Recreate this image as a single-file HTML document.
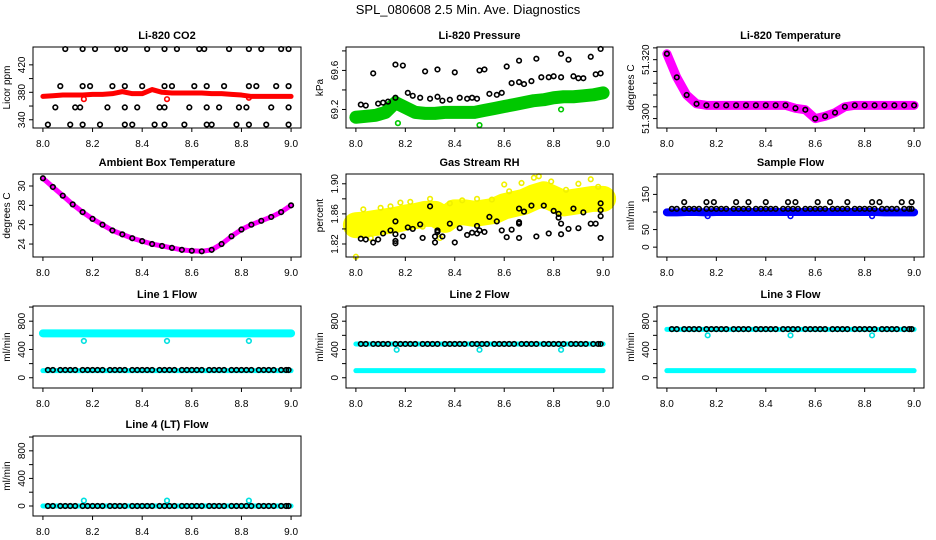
<!DOCTYPE html>
<html><head><meta charset="utf-8"><style>
html,body{margin:0;padding:0;background:#fff;width:936px;height:540px;overflow:hidden}
svg text{font-family:"Liberation Sans",Arial,sans-serif}
</style></head><body>
<svg id="chart" width="936" height="540" viewBox="0 0 936 540" xmlns="http://www.w3.org/2000/svg">
<text x="468" y="14" text-anchor="middle" font-size="13">SPL_080608  2.5 Min. Ave. Diagnostics</text>
</svg>
<script>
// shared x grid (hours)
const T = [8.00,8.04,8.08,8.12,8.16,8.20,8.24,8.28,8.32,8.36,8.40,8.44,8.48,8.52,8.56,8.60,8.64,8.68,8.72,8.76,8.80,8.84,8.88,8.92,8.96,9.00];
const D = [8.02,8.04,8.07,8.09,8.11,8.13,8.16,8.18,8.20,8.22,8.24,8.27,8.29,8.31,8.33,8.36,8.38,8.40,8.42,8.44,8.47,8.49,8.51,8.53,8.56,8.58,8.60,8.62,8.64,8.67,8.69,8.71,8.73,8.76,8.78,8.80,8.82,8.84,8.87,8.89,8.91,8.93,8.96,8.98,8.99];
const xTicks = [8.0,8.2,8.4,8.6,8.8,9.0];
const xTickLabels = ["8.0","8.2","8.4","8.6","8.8","9.0"];

// CO2
const co2Red = [374,375,376,376,376,377,377,378,381,378,378,384,380,379,379,379,379,378,378,377,376,374,374,374,374,374];
const co2TopX = [8.09,8.16,8.21,8.30,8.33,8.42,8.49,8.54,8.63,8.65,8.75,8.83,8.88,8.96,8.99];
const co2MidX = [8.07,8.16,8.19,8.28,8.33,8.40,8.49,8.52,8.61,8.66,8.73,8.83,8.86,8.94,8.99];
const co2LowX = [8.05,8.13,8.15,8.26,8.33,8.38,8.47,8.49,8.59,8.66,8.71,8.79,8.82,8.92,8.99];
const co2BotX = [8.02,8.11,8.16,8.23,8.33,8.36,8.45,8.49,8.57,8.66,8.68,8.78,8.83,8.90,8.99];
const co2Levels = [443,389,358,333];

// Pressure
const presGreen = [69.12,69.13,69.14,69.17,69.27,69.22,69.17,69.16,69.16,69.17,69.17,69.17,69.17,69.19,69.21,69.23,69.25,69.27,69.29,69.30,69.32,69.33,69.33,69.34,69.35,69.37];
const presBlackX = [8.02,8.04,8.07,8.09,8.11,8.13,8.16,8.16,8.19,8.21,8.23,8.26,8.28,8.30,8.33,8.33,8.35,8.38,8.40,8.42,8.45,8.47,8.49,8.50,8.52,8.54,8.57,8.59,8.61,8.63,8.66,8.66,8.68,8.71,8.73,8.75,8.78,8.80,8.83,8.83,8.86,8.88,8.90,8.92,8.95,8.97,8.99,8.99];
const presBlackY = [69.25,69.24,69.57,69.26,69.27,69.28,69.32,69.66,69.65,69.37,69.34,69.32,69.59,69.31,69.33,69.61,69.29,69.30,69.58,69.32,69.31,69.32,69.31,69.60,69.61,69.36,69.35,69.37,69.64,69.47,69.48,69.70,69.46,69.49,69.72,69.53,69.53,69.54,69.53,69.77,69.71,69.54,69.52,69.52,69.74,69.56,69.57,69.82];
const presOutX = [8.17,8.50,8.83];
const presOutY = [69.06,69.04,69.20];

// Li-820 temperature
const ltemp = [51.322,51.314,51.308,51.305,51.3045,51.3045,51.3045,51.3045,51.3045,51.3045,51.3045,51.3045,51.3045,51.3035,51.303,51.300,51.3008,51.302,51.304,51.3045,51.3045,51.3045,51.3045,51.3045,51.3045,51.3045];

// Ambient box temperature
const amb = [30.8,29.9,29.0,28.1,27.3,26.6,26.0,25.4,25.0,24.6,24.3,24.0,23.8,23.6,23.4,23.3,23.25,23.4,24.0,24.8,25.5,26.0,26.4,26.8,27.3,28.0];

// Gas stream RH
const rhYellow = [1.845,1.846,1.848,1.850,1.852,1.855,1.857,1.860,1.860,1.852,1.862,1.862,1.860,1.862,1.864,1.870,1.873,1.876,1.882,1.886,1.880,1.874,1.876,1.878,1.880,1.880];
const rhYelX = [8.00,8.03,8.06,8.10,8.14,8.18,8.22,8.27,8.30,8.34,8.38,8.43,8.49,8.55,8.60,8.62,8.67,8.72,8.74,8.79,8.85,8.90,8.95,8.98];
const rhYelY = [1.803,1.866,1.828,1.868,1.870,1.875,1.876,1.843,1.880,1.828,1.874,1.878,1.880,1.879,1.899,1.890,1.901,1.908,1.910,1.903,1.892,1.900,1.906,1.896];
const rhBlackX = [8.02,8.04,8.07,8.09,8.11,8.14,8.16,8.16,8.16,8.16,8.19,8.21,8.23,8.26,8.27,8.30,8.32,8.33,8.33,8.32,8.35,8.38,8.40,8.42,8.45,8.47,8.49,8.49,8.50,8.52,8.54,8.57,8.59,8.61,8.63,8.66,8.66,8.66,8.66,8.68,8.71,8.73,8.76,8.78,8.80,8.82,8.82,8.83,8.83,8.86,8.88,8.90,8.92,8.95,8.97,8.99,8.99,8.99,8.99];
const rhBlackY = [1.827,1.826,1.822,1.826,1.834,1.838,1.850,1.833,1.824,1.821,1.830,1.842,1.840,1.846,1.828,1.870,1.830,1.838,1.836,1.822,1.830,1.847,1.822,1.841,1.832,1.835,1.844,1.834,1.838,1.836,1.856,1.850,1.838,1.829,1.839,1.849,1.847,1.828,1.867,1.863,1.871,1.830,1.871,1.834,1.864,1.860,1.855,1.847,1.833,1.840,1.867,1.841,1.862,1.847,1.847,1.857,1.874,1.865,1.828];

// Sample flow
const sampBlue = [99,99,100,100,99,100,100,100,100,100,100,100,100,100,100,100,100,100,100,100,100,100,99,99,99,99];
const sampHiX = [8.07,8.16,8.19,8.28,8.33,8.40,8.49,8.52,8.61,8.66,8.73,8.83,8.86,8.95,8.99];
const sampHiLevel = 128;
const sampLoLevel = 109;

// Line flows
const l1CyanHi = 628, l1CyanLo = 100, l1Black = 110, l1Out = 520;
const l2CyanHi = 478, l2CyanLo = 100, l2Black = 478, l2Out = 395;
const l3CyanHi = 685, l3CyanLo = 100, l3Black = 688, l3Out = 600;
const l4CyanHi = 0, l4Black = 0, l4Out = 78;
const outX = [8.165,8.50,8.83];

const svg = document.getElementById('chart');
const NS = 'http://www.w3.org/2000/svg';
function mk(tag, attrs, parent){const e=document.createElementNS(NS,tag);for(const k in attrs)e.setAttribute(k,attrs[k]);(parent||svg).appendChild(e);return e;}

const cols = [[33,301],[346,613],[657,924]];
const rows = [[47,128],[174,257],[306,388],[436,516]];

function panel(o){
  const [bx0,bx1]=cols[o.c], [by0,by1]=rows[o.r];
  const g = mk('g',{});
  
  
  const pad=(bx1-bx0)*0.04/1.08;
  const xs=v=>bx0+pad+(v-8)*(bx1-bx0-2*pad);
  const ys=v=>by1-(v-o.y0)/(o.y1-o.y0)*(by1-by0);
  const t=mk('text',{x:(bx0+bx1)/2,y:by0-8,'text-anchor':'middle','font-size':'11','font-weight':'bold'},g);
  t.textContent=o.title;
  
  
  const plot = mk('g',{},g);
  
  
  o.draw(plot,xs,ys);
  const b=mk('rect',{x:bx0,y:by0,width:bx1-bx0,height:by1-by0,fill:'none',stroke:'#000','stroke-width':1},g);
  
  
  const xa=mk('g',{},g);
  
  
  mk('line',{x1:xs(8),x2:xs(9),y1:by1,y2:by1,stroke:'#000'},xa);
  xTicks.forEach((v,i)=>{
    mk('line',{x1:xs(v),x2:xs(v),y1:by1,y2:by1+4,stroke:'#000'},xa);
    const l=mk('text',{x:xs(v),y:by1+19,'text-anchor':'middle','font-size':'10'},xa);
    l.textContent=xTickLabels[i];
    
    
  });
  const ya=mk('g',{},g);
  
  
  mk('line',{x1:bx0,x2:bx0,y1:ys(o.yt[0]),y2:ys(o.yt[o.yt.length-1]),stroke:'#000'},ya);
  o.yt.forEach(v=>mk('line',{x1:bx0-4,x2:bx0,y1:ys(v),y2:ys(v),stroke:'#000'},ya));
  o.yl.forEach((v,i)=>{
    const yy=ys(v), xx=bx0-8;
    const l=mk('text',{x:xx,y:yy,'text-anchor':'middle','font-size':'10',transform:`rotate(-90 ${xx} ${yy})`},ya);
    l.textContent=o.ylt[i];
    
    
  });
  const yt=mk('text',{x:bx0-23,y:(by0+by1)/2,'text-anchor':'middle','font-size':'10',transform:`rotate(-90 ${bx0-23} ${(by0+by1)/2})`},ya);
  yt.textContent=o.ytitle;
  
  
}
function band(p,xs,ys,xa,ya,color,w,name){
  const pl=mk('polyline',{points:xa.map((x,i)=>xs(x)+','+ys(ya[i])).join(' '),fill:'none',stroke:color,'stroke-width':w,'stroke-linejoin':'round','stroke-linecap':'round'},p);
  
  
}
function dots(p,xs,ys,xa,ya,color,name){
  xa.forEach((x,i)=>{
    const c=mk('circle',{cx:xs(x),cy:ys(ya[i]),r:2.3,fill:'none',stroke:color,'stroke-width':1.6},p);
    
    
  });
}
const fill=(arr,v)=>arr.map(()=>v);

panel({name:'co2',c:0,r:0,title:'Li-820 CO2',ytitle:'Licor ppm',y0:328,y1:446,yt:[340,360,380,400,420],yl:[340,380,420],ylt:['340','380','420'],
 draw:(p,xs,ys)=>{band(p,xs,ys,T,co2Red,'#f00',5,'co2-series');
  dots(p,xs,ys,[8.165,8.50,8.83],[370,370,372],'#f00','co2-outlier');
  [co2TopX,co2MidX,co2LowX,co2BotX].forEach((a,i)=>dots(p,xs,ys,a,fill(a,co2Levels[i]),'#000','co2-point'));}});

panel({name:'pressure',c:1,r:0,title:'Li-820 Pressure',ytitle:'kPa',y0:69.01,y1:69.84,yt:[69.2,69.4,69.6,69.8],yl:[69.2,69.6],ylt:['69.2','69.6'],
 draw:(p,xs,ys)=>{band(p,xs,ys,T,presGreen,'#00c800',13,'pressure-series');
  dots(p,xs,ys,presOutX,presOutY,'#00c800','pressure-outlier');
  dots(p,xs,ys,presBlackX,presBlackY,'#000','pressure-point');}});

panel({name:'li-temp',c:2,r:0,title:'Li-820 Temperature',ytitle:'degrees C',y0:51.2968,y1:51.3243,yt:[51.300,51.304,51.308,51.312,51.316,51.320,51.324],yl:[51.300,51.320],ylt:['51.300','51.320'],
 draw:(p,xs,ys)=>{band(p,xs,ys,T,ltemp,'#f0f',9,'li-temp-series');
  dots(p,xs,ys,T,ltemp,'#000','li-temp-point');}});

panel({name:'ambient-temp',c:0,r:1,title:'Ambient Box Temperature',ytitle:'degrees C',y0:22.66,y1:31.24,yt:[24,26,28,30],yl:[24,26,28,30],ylt:['24','26','28','30'],
 draw:(p,xs,ys)=>{band(p,xs,ys,T,amb,'#f0f',5,'ambient-temp-series');
  dots(p,xs,ys,T,amb,'#000','ambient-temp-point');}});

panel({name:'rh',c:1,r:1,title:'Gas Stream RH',ytitle:'percent',y0:1.8027,y1:1.913,yt:[1.82,1.84,1.86,1.88,1.90],yl:[1.82,1.86,1.90],ylt:['1.82','1.86','1.90'],
 draw:(p,xs,ys)=>{band(p,xs,ys,T,rhYellow,'#ffff00',26,'rh-series');
  dots(p,xs,ys,rhYelX,rhYelY,'#f0f000','rh-yellow-point');
  dots(p,xs,ys,rhBlackX,rhBlackY,'#000','rh-point');}});

panel({name:'sample-flow',c:2,r:1,title:'Sample Flow',ytitle:'ml/min',y0:-28,y1:208,yt:[0,50,100,150,200],yl:[0,50,150],ylt:['0','50','150'],
 draw:(p,xs,ys)=>{band(p,xs,ys,T,sampBlue,'#0000ff',8,'sample-flow-series');
  dots(p,xs,ys,[8.165,8.50,8.83],[88,88,88],'#0000ff','sample-flow-outlier');
  dots(p,xs,ys,D,fill(D,sampLoLevel),'#000','sample-flow-point');
  dots(p,xs,ys,sampHiX,fill(sampHiX,sampHiLevel),'#000','sample-flow-point');}});

const flowAxis={y0:-145,y1:1015,yt:[0,200,400,600,800,1000],yl:[0,400,800],ylt:['0','400','800'],ytitle:'ml/min'};
panel(Object.assign({name:'line1-flow',c:0,r:2,title:'Line 1 Flow',
 draw:(p,xs,ys)=>{band(p,xs,ys,T,fill(T,l1CyanHi),'#00ffff',8,'line1-flow-series');
  band(p,xs,ys,T,fill(T,l1CyanLo),'#00ffff',5,'line1-flow-low-series');
  dots(p,xs,ys,outX,fill(outX,l1Out),'#00e0e0','line1-flow-outlier');
  dots(p,xs,ys,D,fill(D,l1Black),'#000','line1-flow-point');}},flowAxis));
panel(Object.assign({name:'line2-flow',c:1,r:2,title:'Line 2 Flow',
 draw:(p,xs,ys)=>{band(p,xs,ys,T,fill(T,l2CyanLo),'#00ffff',5,'line2-flow-low-series');
  band(p,xs,ys,T,fill(T,l2CyanHi),'#00ffff',5,'line2-flow-series');
  dots(p,xs,ys,outX,fill(outX,l2Out),'#00e0e0','line2-flow-outlier');
  dots(p,xs,ys,D,fill(D,l2Black),'#000','line2-flow-point');}},flowAxis));
panel(Object.assign({name:'line3-flow',c:2,r:2,title:'Line 3 Flow',
 draw:(p,xs,ys)=>{band(p,xs,ys,T,fill(T,l3CyanLo),'#00ffff',5,'line3-flow-low-series');
  band(p,xs,ys,T,fill(T,l3CyanHi),'#00ffff',5,'line3-flow-series');
  dots(p,xs,ys,outX,fill(outX,l3Out),'#00e0e0','line3-flow-outlier');
  dots(p,xs,ys,D,fill(D,l3Black),'#000','line3-flow-point');}},flowAxis));
panel(Object.assign({name:'line4-flow',c:0,r:3,title:'Line 4 (LT) Flow',
 draw:(p,xs,ys)=>{band(p,xs,ys,T,fill(T,l4CyanHi),'#00ffff',5,'line4-flow-series');
  dots(p,xs,ys,outX,fill(outX,l4Out),'#00e0e0','line4-flow-outlier');
  dots(p,xs,ys,D,fill(D,l4Black),'#000','line4-flow-point');}},flowAxis));
</script>
</body></html>
